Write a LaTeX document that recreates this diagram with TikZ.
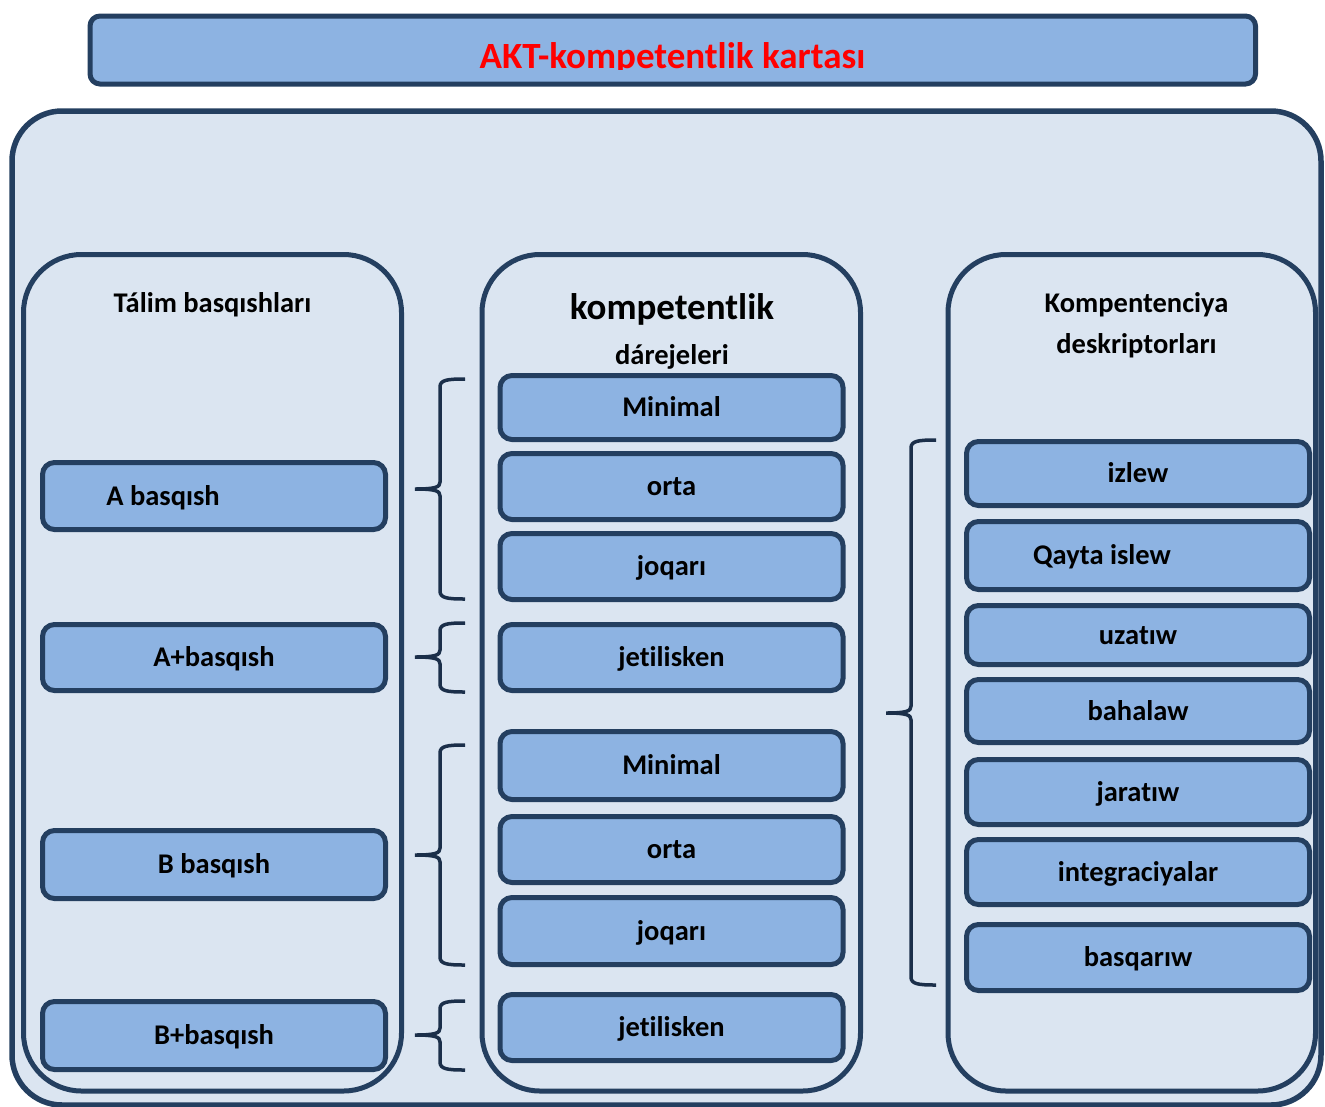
\documentclass[tikz,border=0pt]{standalone}
\usepackage{fontspec}
\setmainfont{Carlito}[Ligatures=NoCommon]
\definecolor{navy}{HTML}{243F60}
\definecolor{boxblue}{HTML}{8DB3E2}
\definecolor{bgblue}{HTML}{DBE5F1}
\definecolor{bracecol}{HTML}{1B2F4A}
\definecolor{titlered}{HTML}{FF0000}
\newcommand\mkbrace[4]{%
  \draw[bracestroke] ({#1+25},#2) .. controls ({#1+7},#2) and (#1,{#2+1}) .. (#1,{#2+8})
    -- (#1,{#3-7}) .. controls (#1,{#3-2}) and ({#1-4},#3) .. ({#1-25},#3)
    .. controls ({#1-4},#3) and (#1,{#3+2}) .. (#1,{#3+7})
    -- (#1,{#4-8}) .. controls (#1,{#4-1}) and ({#1+7},#4) .. ({#1+25},#4);}
\begin{document}
\begin{tikzpicture}[x=1pt,y=-1pt,
  cbox/.style={draw=navy, line width=5pt, fill=boxblue, rounded corners=12pt,
    minimum width=343pt, inner sep=0pt, font=\fontsize{28.5}{30}\selectfont\bfseries,
    text height=20pt, text depth=2pt},
  colbox/.style={draw=navy, line width=5pt, fill=bgblue, rounded corners=58pt, inner sep=0pt},
  hdr/.style={font=\fontsize{28.5}{30}\selectfont\bfseries, anchor=base, inner sep=0pt},
  bracestroke/.style={draw=bracecol, line width=3.5pt}]
\useasboundingbox (0,0) rectangle (1325,1106);
\clip (0,0) rectangle (1325,1106);
% outer background
\node[draw=navy, line width=5.5pt, fill=bgblue, rounded corners=50pt,
  minimum width=1309pt, minimum height=994pt, inner sep=0pt] (outer) at (666.5,608) {};
% title
\node[draw=navy, line width=5pt, fill=boxblue, rounded corners=10pt,
  minimum width=1165.5pt, minimum height=68pt, inner sep=0pt] (title) at (672.75,50) {};
\begin{scope}
\clip (0,0) rectangle (1325,69);
\node[anchor=base, inner sep=0pt, text=titlered, font=\fontsize{37}{40}\selectfont\bfseries]
  (titletext) at (672.5,68) {AKT-kompetentlik kartası};
\end{scope}
% columns
\node[colbox, minimum width=378pt, minimum height=836.5pt] (lcol) at (212.5,672.75) {};
\node[colbox, minimum width=378.5pt, minimum height=836.5pt] (mcol) at (671.25,672.75) {};
\node[colbox, minimum width=367.5pt, minimum height=836.5pt] (rcol) at (1131.75,672.75) {};
% headers
\node[hdr] (h1) at (212.5,312) {Tálim basqıshları};
\node[hdr, font=\fontsize{37}{40}\selectfont\bfseries] (h2a) at (672,319) {kompetentlik};
\node[hdr] (h2b) at (672,364) {dárejeleri};
\node[hdr] (h3a) at (1136.5,312) {Kompentenciya};
\node[hdr] (h3b) at (1136.5,353) {deskriptorları};
% left boxes
\node[cbox, minimum height=67pt] (bA) at (214,496) {};
\node[hdr] (tA) at (163,505) {A basqısh};
\node[cbox, minimum height=66pt] (bAp) at (214,657.5) {A+basqısh};
\node[cbox, minimum height=68pt] (bB) at (214,864.5) {B basqısh};
\node[cbox, minimum height=68pt] (bBp) at (214,1035.5) {B+basqısh};
% middle boxes
\node[cbox, minimum height=64pt] (m1) at (671.5,407.5) {Minimal};
\node[cbox, minimum height=66pt] (m2) at (671.5,486.5) {orta};
\node[cbox, minimum height=66pt] (m3) at (671.5,566.5) {joqarı};
\node[cbox, minimum height=66pt] (m4) at (671.5,657.5) {jetilisken};
\node[cbox, minimum height=68pt] (m5) at (671.5,765.5) {Minimal};
\node[cbox, minimum height=66pt] (m6) at (671.5,849.5) {orta};
\node[cbox, minimum height=67pt] (m7) at (671.5,931) {joqarı};
\node[cbox, minimum height=66pt] (m8) at (671.5,1027.5) {jetilisken};
% right boxes
\node[cbox, minimum height=64pt] (r1) at (1138,473.5) {izlew};
\node[cbox, minimum height=68pt] (r2) at (1138,555.5) {};
\node[hdr] (tr2) at (1102,564) {Qayta islew};
\node[cbox, minimum height=59pt] (r3) at (1138,635) {uzatıw};
\node[cbox, minimum height=63pt] (r4) at (1138,711) {bahalaw};
\node[cbox, minimum height=65pt] (r5) at (1138,792) {jaratıw};
\node[cbox, minimum height=65pt] (r6) at (1138,872) {integraciyalar};
\node[cbox, minimum height=66pt] (r7) at (1138,957.5) {basqarıw};
% braces
\mkbrace{440}{379}{489}{599}
\mkbrace{440}{623}{657}{692}
\mkbrace{440}{745}{855}{965}
\mkbrace{440}{1001}{1035}{1070}
\mkbrace{911}{440}{713}{985}
\end{tikzpicture}
\end{document}
